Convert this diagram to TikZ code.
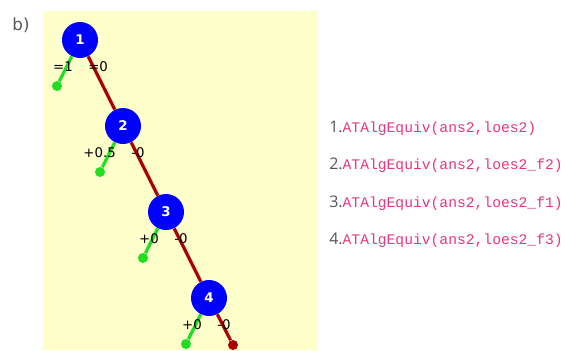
\documentclass[tikz,border=0pt]{standalone}
\usepackage{fontspec}
\setmainfont{DejaVu Sans}
\setmonofont{Liberation Mono}
\newfontfamily\listfont{Open Sans}
\definecolor{paleyellow}{HTML}{FFFFCC}
\definecolor{leafgreen}{HTML}{22DD22}
\definecolor{falsered}{HTML}{AA0000}
\definecolor{numgray}{HTML}{555555}
\definecolor{testpink}{HTML}{E8357F}

\begin{document}
\begin{tikzpicture}[x=0.75pt,y=-0.75pt]
    \tikzstyle{test node}=[circle,fill=blue,minimum size=27pt,inner sep=0pt,text=white,font=\fontsize{10}{12}\selectfont\bfseries]
    \tikzstyle{leaf}=[circle,minimum size=7.5pt,inner sep=0pt]
    \tikzstyle{true leaf}=[leaf,fill=leafgreen]
    \tikzstyle{false leaf}=[leaf,fill=falsered]
    \tikzstyle{true branch}=[draw=leafgreen,line width=2.4pt]
    \tikzstyle{false branch}=[draw=falsered,line width=2.4pt]
    \tikzstyle{score}=[font=\fontsize{10}{12}\selectfont,inner sep=0pt]
    \tikzstyle{answer test}=[anchor=west,inner sep=0pt,font=\fontsize{11}{13}\selectfont]

    \useasboundingbox (0,0) rectangle (567,350);
    \fill[paleyellow] (43,11) rectangle (318,350);
    \node[text=numgray,font=\fontsize{12.5}{15}\selectfont] (part) at (21,25) {b)};

    % Draw the test nodes
    \foreach \name in {1,...,4}
        \node[test node] (N-\name) at ({80+43*(\name-1)},{40+86*(\name-1)}) {\name};

    % Draw the leaves
    \foreach \name in {1,...,4}
        \node[true leaf] (T-\name) at ({57+43*(\name-1)},{86+86*(\name-1)}) {};
    \node[false leaf] (F-4) at (233,345) {};

    % Connect every test node with its true leaf and the next test node
    \foreach \name in {1,...,4}
        \path[true branch] (N-\name) -- (T-\name);

    \foreach \source/\dest in {1/2,2/3,3/4}
        \path[false branch] (N-\source) -- (N-\dest);
    \path[false branch] (N-4) -- (F-4);

    % Scores on the branches
    \foreach \name/\yes/\no in {1/=1/=0,2/+0.5/-0,3/+0/-0,4/+0/-0} {
        \node[score,anchor=east] (Y-\name) at ({73+43*(\name-1)},{67+86*(\name-1)}) {\yes};
        \node[score,anchor=west] (X-\name) at ({88+43*(\name-1)},{67+86*(\name-1)}) {\no};
    }

    % The answer tests
    \foreach \i/\arg in {1/loes2,2/loes2\_f2,3/loes2\_f1,4/loes2\_f3}
        \node[answer test] (A-\i) at (329,{128+37.5*(\i-1)})
            {{\listfont\fontsize{12}{14}\selectfont\color{numgray}\i.}\texttt{\color{testpink}ATAlgEquiv(ans2,\arg)}};

\end{tikzpicture}
\end{document}
